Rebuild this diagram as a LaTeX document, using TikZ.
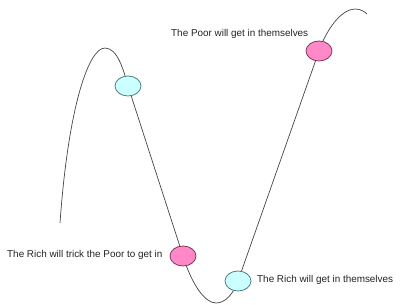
\documentclass[tikz,border=0pt]{standalone}
\usepackage{fontspec}
\setmainfont{Liberation Sans}
\usetikzlibrary{shapes.geometric}
\definecolor{cyanfill}{HTML}{CCFFFF}
\definecolor{cyanedge}{HTML}{4F7F80}
\definecolor{pinkfill}{HTML}{FF88C8}
\definecolor{pinkedge}{HTML}{7F3A5A}
\definecolor{curvecol}{HTML}{444444}
\definecolor{textcol}{HTML}{222222}
\tikzset{
  curveline/.style={draw=curvecol, line width=0.7pt},
  blob/.style={ellipse, minimum width=26pt, minimum height=20pt, inner sep=0pt, line width=0.8pt},
  richblob/.style={blob, fill=cyanfill, draw=cyanedge},
  poorblob/.style={blob, fill=pinkfill, draw=pinkedge},
  label/.style={anchor=west, inner sep=0pt, text=textcol, font=\fontsize{9.9}{12}\selectfont}
}
\begin{document}
\begin{tikzpicture}[x=1pt, y=-1pt]
\useasboundingbox (0,0) rectangle (400,305);
\coordinate (s) at (60,223);
\coordinate (p1) at (105,48);
\coordinate (e1) at (128,86);
\coordinate (e2) at (183,256);
\coordinate (t) at (216,303);
\coordinate (e3) at (238,281);
\coordinate (e4) at (319,51);
\coordinate (p2) at (355,9);
\coordinate (f) at (367,14);
\draw[curveline] (s) .. controls (68,110) and (88,48) .. (p1)
  .. controls (118,48) and (124,72) .. (e1)
  -- (e2)
  .. controls (192,285) and (205,303) .. (t)
  .. controls (226,303) and (234,292.5) .. (e3)
  -- (e4)
  .. controls (327,28) and (342,9) .. (p2)
  .. controls (361,9) and (365,12) .. (f);
\node[richblob] (r1) at (e1) {};
\node[poorblob] (q1) at (e2) {};
\node[richblob] (r2) at (e3) {};
\node[poorblob] (q2) at (e4) {};
\node[label] (l1) at (171,34) {The Poor will get in themselves};
\node[label] (l2) at (7,255) {The Rich will trick the Poor to get in};
\node[label] (l3) at (257,280) {The Rich will get in themselves};
\end{tikzpicture}
\end{document}
